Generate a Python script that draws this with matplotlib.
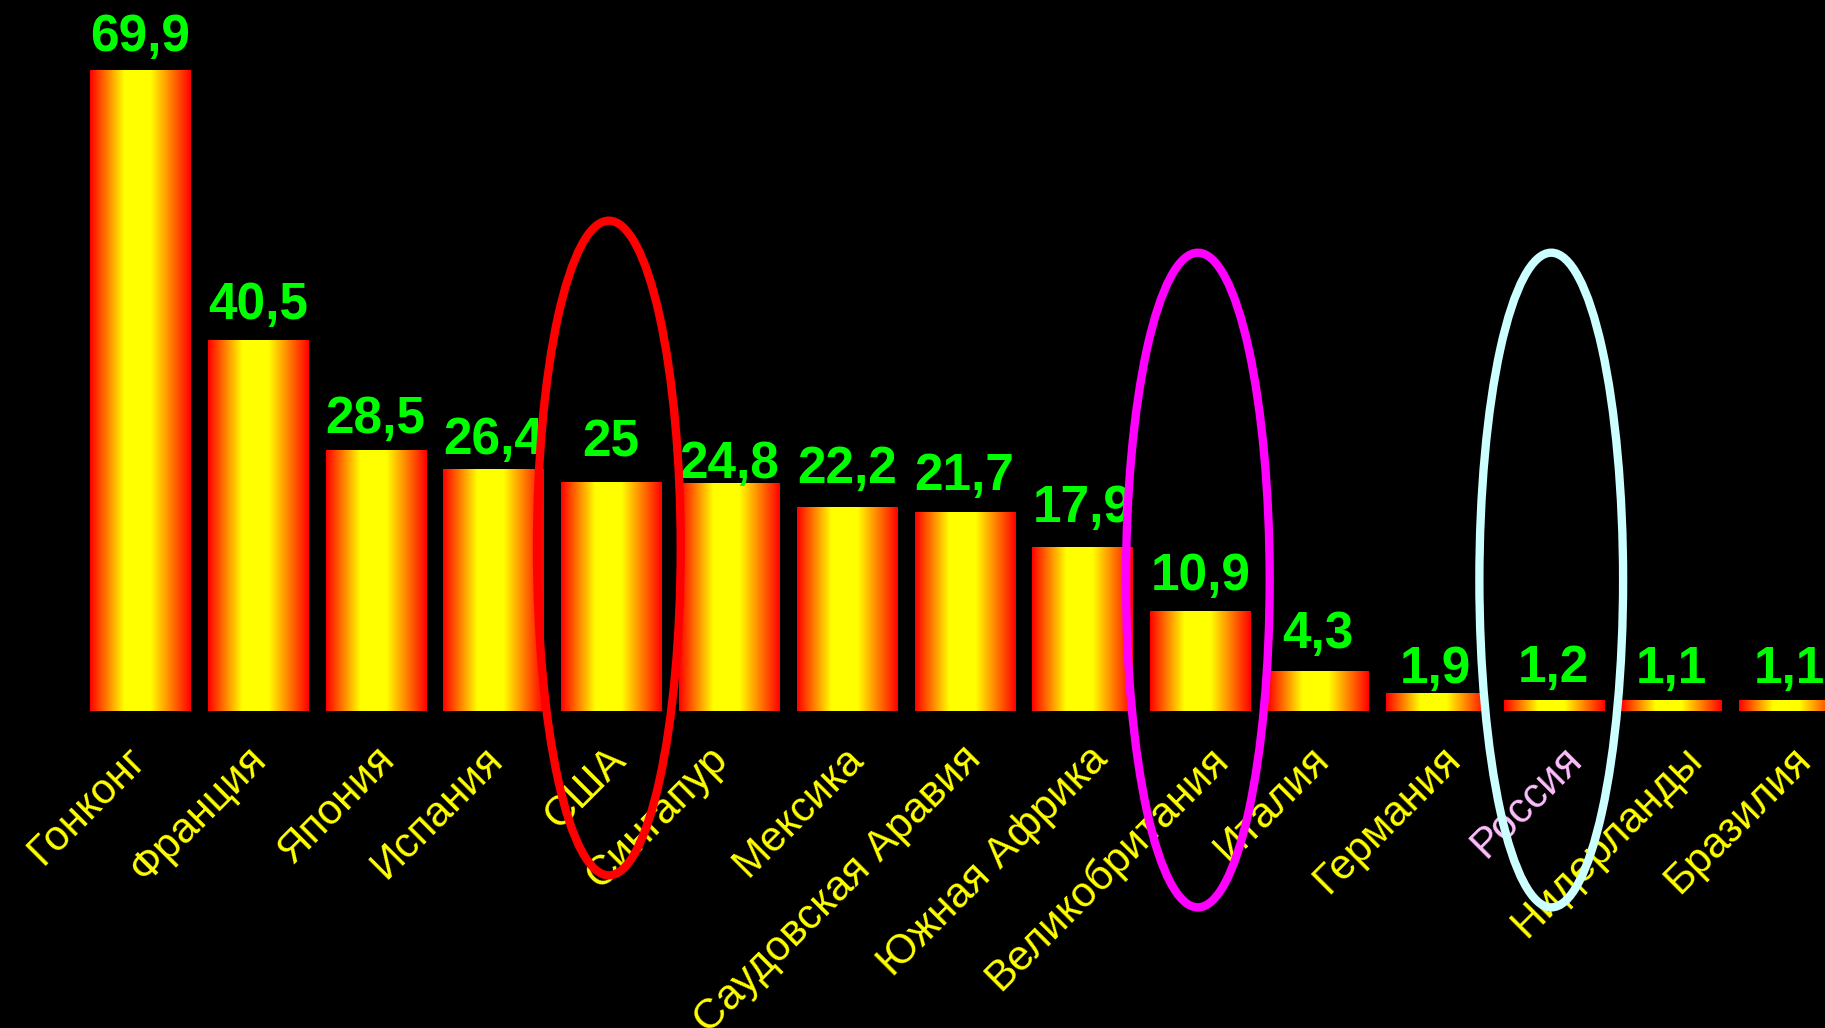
import numpy as np
import matplotlib.pyplot as plt
from matplotlib.colors import LinearSegmentedColormap
from matplotlib.patches import Ellipse

plt.rcParams['font.family'] = ['Liberation Sans', 'DejaVu Sans']

countries = ["Гонконг", "Франция", "Япония", "Испания", "США", "Сингапур",
             "Мексика", "Саудовская Аравия", "Южная Африка", "Великобритания",
             "Италия", "Германия", "Россия", "Нидерланды", "Бразилия"]
values = [69.9, 40.5, 28.5, 26.4, 25, 24.8, 22.2, 21.7, 17.9, 10.9,
          4.3, 1.9, 1.2, 1.1, 1.1]

# gap (px) between bar top and the value label baseline
label_gap = [20, 21, 17, 15, 26, 6, 25, 22, 25, 21, 24, 11, 18, 18, 18]
# horizontal nudge (px) of each category name
name_shift = [-23, -20, -9, -19, -13, -29, -12, -12, -3, 0, -17, -3, 0, 3, -6]

# circled countries and their outline colours
circled = {"США": "#FF0000", "Великобритания": "#FF00FF", "Россия": "#CCFFFF"}
circle_y = {"США": 17.8, "Великобритания": 14.3, "Россия": 14.3}

name_colors = {"Россия": "#FFBFFF"}

fig = plt.figure(figsize=(18.25, 10.28), dpi=100, facecolor="black")
ax = fig.add_axes([0, 0.3084, 1, 0.668])
ax.set_facecolor("black")

pitch = 117.8
x = np.arange(len(values))
bars = ax.bar(x, values, width=0.85, color="none", edgecolor="none")

# red-yellow-red horizontal gradient inside every bar
grad_cmap = LinearSegmentedColormap.from_list(
    "bar", [(0, "#FF0000"), (0.34, "#FFFF00"), (0.6, "#FFFF00"), (1, "#FF0000")])
grad = np.linspace(0, 1, 256).reshape(1, -1)
for b in bars:
    x0, w, h = b.get_x(), b.get_width(), b.get_height()
    ax.imshow(grad, cmap=grad_cmap, extent=[x0, x0 + w, 0, h],
              aspect="auto", interpolation="bilinear", zorder=2)

ax.set_xlim(-140 / pitch, (1825 - 140) / pitch)
ax.set_ylim(0, 75)
ax.axis("off")

# value labels
for i, v in enumerate(values):
    txt = f"{v:g}".replace(".", ",")
    ax.annotate(txt, xy=(i, v), xytext=(0, label_gap[i] * 0.72),
                textcoords="offset points", ha="center", va="baseline",
                color="#00FF00", fontsize=37, fontweight="bold",
                annotation_clip=False, zorder=3)

# rotated category names
for i, name in enumerate(countries):
    dx = (8 + name_shift[i]) * 0.72
    ax.annotate(name, xy=(i, 0), xytext=(dx, -20), textcoords="offset points",
                rotation=45, rotation_mode="anchor", ha="right", va="top",
                color=name_colors.get(name, "#FFFF00"), fontsize=30.5,
                annotation_clip=False, zorder=3)

# outline ellipses around the highlighted countries
for name, col in circled.items():
    i = countries.index(name)
    ax.add_patch(Ellipse((i - 0.02, circle_y[name]), width=1.22, height=71.5,
                         fill=False, edgecolor=col, lw=6, clip_on=False,
                         zorder=5))

fig.savefig("out.png", dpi=100, facecolor="black")
